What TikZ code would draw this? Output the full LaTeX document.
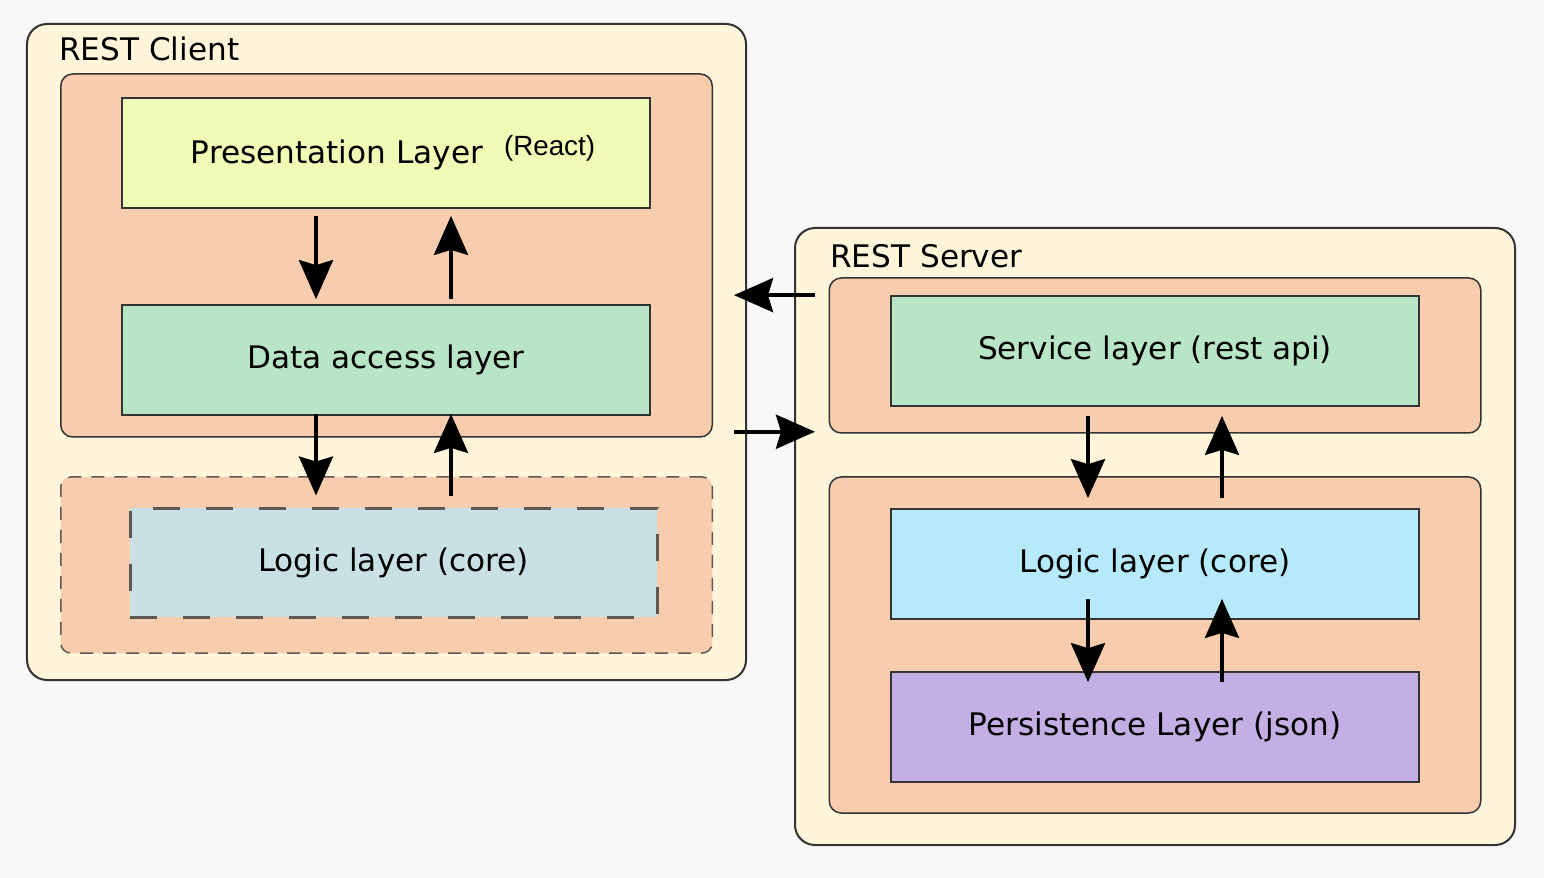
\documentclass[tikz,border=0pt]{standalone}
\usepackage{fontspec}
\setmainfont{DejaVu Sans}
\newfontfamily\reactfont{Liberation Sans}
\usetikzlibrary{arrows.meta}

\definecolor{bgcol}{HTML}{F8F8F8}
\definecolor{cream}{HTML}{FEF5DA}
\definecolor{peach}{HTML}{F7CDAE}
\definecolor{lime}{HTML}{EFFCB5}
\definecolor{mint}{HTML}{B9E5C7}
\definecolor{ice}{HTML}{C9E1E4}
\definecolor{sky}{HTML}{B6E9FA}
\definecolor{lilac}{HTML}{C3AFE3}
\definecolor{edge}{HTML}{333333}
\definecolor{dashcol}{HTML}{5E5854}

\begin{document}
\begin{tikzpicture}[
        outer/.style={draw=edge, line width=0.04cm, fill=cream, rounded corners=0.4cm, inner sep=0pt},
        group/.style={draw=edge, line width=0.03cm, fill=peach, rounded corners=0.24cm, inner sep=0pt, minimum width=13.03cm},
        layer/.style={draw=edge, line width=0.035cm, inner sep=0pt, minimum width=10.56cm, minimum height=2.2cm, font=\fontsize{17.7}{21}\selectfont},
        title/.style={anchor=base west, inner sep=0pt, font=\fontsize{17.7}{21}\selectfont},
        flow/.style={line width=0.08cm, -{Stealth[length=0.78cm, width=0.68cm, inset=0.1cm]}}
    ]
        \fill[bgcol] (0,0) rectangle (30.88,-17.56);
        \useasboundingbox (0,0) rectangle (30.88,-17.56);

        % client side
        \node[outer, minimum width=14.38cm, minimum height=13.12cm] (client) at (7.73,-7.04) {};
        \node[title] (clienttitle) at (1.18,-1.22) {REST Client};
        \node[group, minimum height=7.26cm] (clientgroup) at (7.73,-5.11) {};
        \node[group, minimum height=3.52cm, draw=dashcol, dash pattern=on 0.26cm off 0.2cm, rounded corners=0.2cm] (coregroup) at (7.73,-11.30) {};

        \node[layer, fill=lime] (pres) at (7.72,-3.06)
            {\hspace*{8pt}Presentation Layer\hspace{12pt}\raisebox{4.5pt}{\reactfont\fontsize{15.8}{18}\selectfont (React)}};
        \node[layer, fill=mint] (data) at (7.72,-7.20) {Data access layer};
        \node[layer, fill=ice, minimum width=10.54cm, minimum height=2.18cm, draw=dashcol, line width=0.06cm,
              dash pattern=on 0.54cm off 0.52cm] (clogic) at (7.87,-11.25) {Logic layer (core)};

        % server side
        \node[outer, minimum width=14.40cm, minimum height=12.34cm] (server) at (23.10,-10.73) {};
        \node[title] (servertitle) at (16.60,-5.36) {REST Server};
        \node[group, minimum height=3.10cm] (svcgroup) at (23.10,-7.11) {};
        \node[group, minimum height=6.72cm] (coregroup2) at (23.10,-12.90) {};

        \node[layer, fill=mint] (svc) at (23.10,-7.02) {Service layer (rest api)};
        \node[layer, fill=sky] (slogic) at (23.10,-11.28) {Logic layer (core)};
        \node[layer, fill=lilac] (persist) at (23.10,-14.54) {Persistence Layer (json)};

        % client arrows
        \draw[flow, shorten <=0.14cm, shorten >=0.1cm] ([xshift=-1.4cm]pres.south) -- ([xshift=-1.4cm]data.north);
        \draw[flow, shorten <=0.1cm, shorten >=0.14cm] ([xshift=1.3cm]data.north) -- ([xshift=1.3cm]pres.south);
        \draw[flow, shorten <=-0.04cm, shorten >=0.22cm] ([xshift=-1.4cm]data.south) -- ([xshift=-1.4cm]data.south |- clogic.north);
        \draw[flow, shorten <=0.22cm, shorten >=-0.04cm] ([xshift=1.3cm]data.south |- clogic.north) -- ([xshift=1.3cm]data.south);

        % server arrows
        \draw[flow, shorten <=0.18cm, shorten >=0.2cm] ([xshift=-1.34cm]svc.south) -- ([xshift=-1.34cm]slogic.north);
        \draw[flow, shorten <=0.2cm, shorten >=0.18cm] ([xshift=1.34cm]slogic.north) -- ([xshift=1.34cm]svc.south);
        \draw[flow, shorten <=-0.42cm, shorten >=-0.22cm] ([xshift=-1.34cm]slogic.south) -- ([xshift=-1.34cm]persist.north);
        \draw[flow, shorten <=-0.22cm, shorten >=-0.42cm] ([xshift=1.34cm]persist.north) -- ([xshift=1.34cm]slogic.south);

        % between client and server
        \draw[flow] ([xshift=0.42cm]server.west |- svc.north) -- ([xshift=-0.26cm]client.east |- svc.north);
        \draw[flow] ([xshift=-0.26cm,yshift=0.04cm]client.east |- svcgroup.south) -- ([xshift=0.42cm,yshift=0.04cm]server.west |- svcgroup.south);
    \end{tikzpicture}
\end{document}
